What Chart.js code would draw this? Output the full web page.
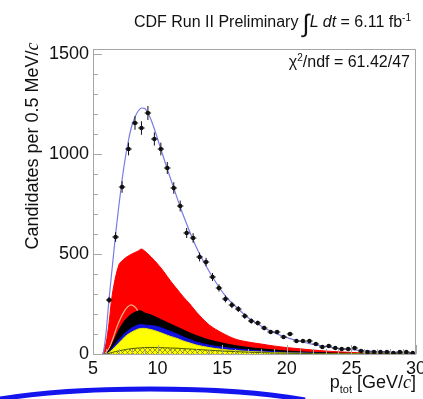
<!DOCTYPE html>
<html>
<head>
<meta charset="utf-8">
<script src="https://cdn.jsdelivr.net/npm/chart.js@4.4.0/dist/chart.umd.min.js"></script>
<style>
  html, body { margin: 0; padding: 0; background: #fff; }
  #wrap { position: relative; width: 423px; height: 399px; overflow: hidden;
          font-family: "Liberation Sans", Arial, sans-serif; color: #111; }
  #c { position: absolute; left: 0; top: 0; }
  .lbl { position: absolute; white-space: nowrap; }
  sup, sub { line-height: 0; }
  .it { font-family: "Liberation Serif", "Times New Roman", serif; font-style: italic; }
  #title { right: 12px; top: 9px; font-size: 16px; }
  #title .int { font-size: 25px; vertical-align: -5px; }
  #title sup { font-size: 10px; }
  #chi { right: 13px; top: 53px; font-size: 16px; }
  #chi sup { font-size: 10px; }
  #ytitle { left: -100px; top: 136px; width: 264px; text-align: center; font-size: 18px;
            line-height: 20px; transform: rotate(-90deg); }
  #xtitle { right: 7px; top: 372px; font-size: 18px; }
  #xtitle sub { font-size: 11px; }
  #arc { position: absolute; left: 0; top: 0; }
</style>
</head>
<body>
<div id="wrap">
  <canvas id="c" width="423" height="399"></canvas>
  <div class="lbl" id="title">CDF Run II Preliminary <span class="int">∫</span><i>L dt</i> = 6.11 fb<sup>-1</sup></div>
  <div class="lbl" id="chi">χ<sup>2</sup>/ndf = 61.42/47</div>
  <div class="lbl" id="ytitle">Candidates per 0.5 MeV/<span class="it">c</span></div>
  <div class="lbl" id="xtitle">p<sub>tot</sub> [GeV/<span class="it">c</span>]</div>
  <svg id="arc" width="423" height="399">
    <path d="M -5 400 A 200 30 0 0 1 305 400" fill="none" stroke="#1414ee" stroke-width="5"/>
  </svg>
</div>
<script>
// data, 0.5 GeV bins
const binCenters = [6.25, 6.75, 7.25, 7.75, 8.25, 8.75, 9.25, 9.75, 10.25, 10.75,
  11.25, 11.75, 12.25, 12.75, 13.25, 13.75, 14.25, 14.75, 15.25, 15.75,
  16.25, 16.75, 17.25, 17.75, 18.25, 18.75, 19.25, 19.75, 20.25, 20.75,
  21.25, 21.75, 22.25, 22.75, 23.25, 23.75, 24.25, 24.75, 25.25, 25.75,
  26.25, 26.75, 27.25, 27.75, 28.25, 28.75, 29.25, 29.75];
const counts = [270, 585, 835, 1025, 1155, 1130, 1205, 1075, 1025, 930,
  830, 740, 605, 580, 485, 460, 385, 330, 275, 245,
  225, 190, 165, 155, 130, 110, 110, 85, 100, 65,
  65, 65, 50, 35, 40, 30, 25, 25, 30, 15,
  10, 10, 10, 10, 5, 10, 10, 5];
const countErrors = [16, 24, 29, 32, 34, 34, 35, 33, 32, 30,
  29, 27, 25, 24, 22, 21, 20, 18, 17, 16,
  15, 14, 13, 12, 11, 10, 10, 9, 10, 8,
  8, 8, 7, 6, 6, 5, 5, 5, 5, 4,
  3, 3, 3, 3, 2, 3, 3, 2];
const binHalfWidth = 0.25;

// total fit
const fitX = [5.8, 6.0, 6.25, 6.5, 6.75, 7.0, 7.25, 7.5, 7.75, 8.0,
  8.25, 8.5, 8.75, 9.0, 9.25, 9.5, 9.75, 10.25, 10.75, 11.25,
  11.75, 12.25, 12.75, 13.25, 13.75, 14.25, 14.75, 15.25, 15.75, 16.25,
  16.75, 17.25, 17.75, 18.25, 18.75, 19.25, 19.75, 20.25, 20.75, 21.25,
  21.75, 22.25, 22.75, 23.25, 23.75, 24.25, 24.75, 25.25, 25.75, 26.25,
  26.75, 27.25, 27.75, 28.25, 28.75, 29.25, 29.75, 30];
const fitY = [0, 100, 280, 440, 600, 740, 870, 980, 1070, 1140,
  1185, 1215, 1230, 1228, 1205, 1170, 1125, 1025, 925, 830,
  735, 650, 570, 500, 440, 385, 335, 290, 255, 225,
  195, 170, 150, 130, 115, 100, 88, 77, 68, 60,
  52, 45, 40, 35, 30, 26, 23, 20, 17, 15,
  13, 11, 10, 9, 8, 7, 6, 6];

// stacked components (cumulative top edge of each band)
const compX = [5.75, 6.0, 6.25, 6.5, 7.0, 7.5, 8.0, 8.5, 8.75, 9.0,
  9.5, 10, 10.5, 11, 11.5, 12, 12.5, 13, 14, 15,
  16, 17, 18, 19, 20, 21, 22, 23, 24, 25,
  26, 27, 28, 29, 30];
const redTop = [0, 50, 160, 300, 445, 480, 500, 515, 525, 515,
  485, 450, 410, 365, 325, 285, 250, 210, 145, 105,
  75, 60, 50, 40, 32, 26, 20, 15, 11, 8,
  5, 3, 2, 1, 1];
const blackTop = [0, 0, 20, 50, 120, 170, 200, 215, 215, 205,
  195, 180, 165, 150, 135, 120, 105, 92, 70, 55,
  42, 33, 26, 20, 15, 11, 8, 6, 4, 3,
  2, 1, 1, 0, 0];
const blueTop = [0, 0, 10, 30, 70, 105, 130, 145, 147, 145,
  142, 137, 125, 113, 100, 85, 72, 60, 44, 34,
  26, 20, 15, 11, 8, 6, 4, 3, 2, 1,
  1, 0, 0, 0, 0];
const yellowTop = [0, 0, 8, 22, 55, 88, 110, 125, 128, 128,
  122, 112, 100, 88, 78, 65, 55, 45, 32, 23,
  17, 13, 10, 7, 5, 4, 3, 2, 1, 1,
  0, 0, 0, 0, 0];
const hatchTop = [0, 0, 3, 8, 16, 22, 27, 30, 31, 32,
  33, 32, 31, 30, 29, 27, 25, 23, 19, 15,
  12, 9, 7, 5, 4, 3, 2, 2, 1, 1,
  0, 0, 0, 0, 0];

// thin orange curve
const bumpX = [5.9, 6.25, 6.5, 7.0, 7.5, 7.9, 8.25, 8.5, 8.75, 9.0, 9.5, 10, 11, 12];
const bumpY = [0, 30, 70, 160, 222, 245, 235, 212, 185, 160, 120, 90, 50, 25];

const xTicks = [5, 10, 15, 20, 25, 30];
const yTicks = [0, 500, 1000, 1500];
const xMinorStep = 1;
const yMinorStep = 100;

const FONT = '"Liberation Sans", Arial, sans-serif';
const FRAME = '#a6a6a6';

function pts(xs, ys) {
  return xs.map((x, i) => ({ x: x, y: ys[i] }));
}

function hatchPattern() {
  const p = document.createElement('canvas');
  p.width = 5; p.height = 5;
  const g = p.getContext('2d');
  g.fillStyle = '#ffff00';
  g.fillRect(0, 0, 5, 5);
  g.strokeStyle = 'rgba(70,70,0,0.75)';
  g.lineWidth = 0.7;
  g.beginPath();
  g.moveTo(0, 5); g.lineTo(5, 0);
  g.moveTo(0, 0); g.lineTo(5, 5);
  g.stroke();
  return g.createPattern(p, 'repeat');
}

function area(label, xs, ys, color, border, order) {
  return {
    label: label,
    data: pts(xs, ys),
    backgroundColor: color,
    borderColor: border,
    borderWidth: 1,
    fill: 'origin',
    pointRadius: 0,
    tension: 0.3,
    order: order
  };
}

// error bars + ROOT-like frame with inner ticks
const rootFrame = {
  id: 'rootFrame',
  afterDatasetsDraw(chart) {
    const ctx = chart.ctx;
    const x = chart.scales.x, y = chart.scales.y;
    const a = chart.chartArea;
    ctx.save();
    ctx.strokeStyle = '#111';
    ctx.lineWidth = 1;
    ctx.beginPath();
    binCenters.forEach((c, i) => {
      const px = x.getPixelForValue(c);
      const py = y.getPixelForValue(counts[i]);
      ctx.moveTo(px, y.getPixelForValue(counts[i] - countErrors[i]));
      ctx.lineTo(px, y.getPixelForValue(counts[i] + countErrors[i]));
      ctx.moveTo(x.getPixelForValue(c - binHalfWidth), py);
      ctx.lineTo(x.getPixelForValue(c + binHalfWidth), py);
    });
    ctx.stroke();

    ctx.strokeStyle = FRAME;
    ctx.strokeRect(a.left + 0.5, a.top + 0.5, a.right - a.left - 1, a.bottom - a.top);
    ctx.beginPath();
    for (let v = y.min; v <= y.max; v += yMinorStep) {
      const py = Math.round(y.getPixelForValue(v)) + 0.5;
      const len = yTicks.includes(v) ? 9 : 5;
      ctx.moveTo(a.left, py);
      ctx.lineTo(a.left + len, py);
    }
    for (let v = x.min; v <= x.max; v += xMinorStep) {
      const px = Math.round(x.getPixelForValue(v)) + 0.5;
      const len = xTicks.includes(v) ? 9 : 5;
      ctx.moveTo(px, a.bottom);
      ctx.lineTo(px, a.bottom - len);
    }
    ctx.stroke();
    ctx.restore();
  }
};

new Chart(document.getElementById('c'), {
  type: 'line',
  data: {
    datasets: [
      {
        label: 'Data',
        data: pts(binCenters, counts),
        showLine: false,
        pointRadius: 2.2,
        pointBackgroundColor: '#111',
        pointBorderColor: '#111',
        pointBorderWidth: 0,
        order: 0
      },
      {
        label: 'Fit',
        data: pts(fitX, fitY),
        borderColor: '#7a7ae6',
        borderWidth: 1.2,
        pointRadius: 0,
        fill: false,
        cubicInterpolationMode: 'monotone',
        order: 1
      },
      area('Hatched', compX, hatchTop, hatchPattern(), '#4b5a00', 2),
      area('Yellow', compX, yellowTop, '#ffff00', '#e8e800', 3),
      area('Blue', compX, blueTop, '#1010e0', '#1010e0', 4),
      area('Black', compX, blackTop, '#000000', '#000000', 5),
      {
        label: 'Orange',
        data: pts(bumpX, bumpY),
        borderColor: '#f0b080',
        borderWidth: 1.2,
        pointRadius: 0,
        fill: false,
        tension: 0.4,
        order: 6
      },
      area('Red', compX, redTop, '#ff0000', '#ff0000', 7)
    ]
  },
  options: {
    responsive: false,
    animation: false,
    devicePixelRatio: 1,
    layout: { padding: { top: 49, right: 7, left: 0, bottom: 0 } },
    plugins: { legend: { display: false }, tooltip: { enabled: false } },
    scales: {
      x: {
        type: 'linear',
        min: 5,
        max: 30,
        grid: { display: false, drawTicks: false },
        border: { display: false },
        afterBuildTicks: s => { s.ticks = xTicks.map(v => ({ value: v })); },
        afterFit: s => { s.height = 45; s.paddingLeft = 0; s.paddingRight = 0; },
        ticks: { font: { family: FONT, size: 18 }, color: '#111', padding: 4, maxRotation: 0,
                 autoSkip: false, callback: v => String(v) }
      },
      y: {
        type: 'linear',
        min: 0,
        max: 1525,
        grid: { display: false, drawTicks: false },
        border: { display: false },
        afterBuildTicks: s => { s.ticks = yTicks.map(v => ({ value: v })); },
        afterFit: s => { s.width = 93; s.paddingTop = 0; s.paddingBottom = 0; },
        ticks: { font: { family: FONT, size: 18 }, color: '#111', padding: 4, autoSkip: false,
                 callback: v => String(v) }
      }
    }
  },
  plugins: [rootFrame]
});
</script>
</body>
</html>
